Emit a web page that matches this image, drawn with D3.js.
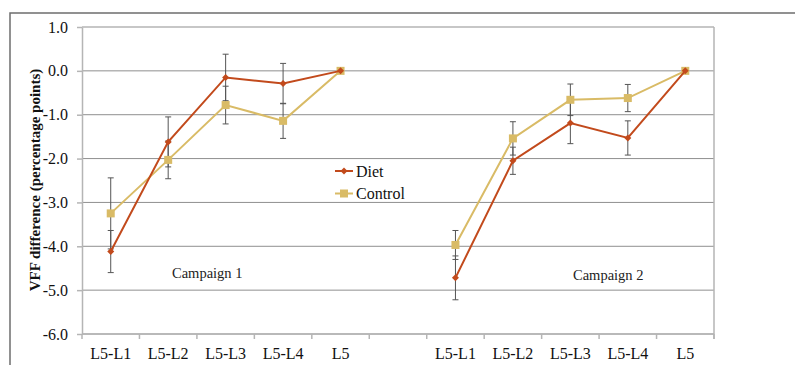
<!DOCTYPE html>
<html>
<head>
<meta charset="utf-8">
<script src="https://cdn.jsdelivr.net/npm/d3@7"></script>
<style>
  body { margin: 0; background: #fff; }
  svg, svg text { font-family: "Liberation Serif", "DejaVu Serif", serif; }
  .grid line { stroke: #8f8f8f; stroke-width: 1; }
  .yaxis path, .yaxis line { stroke: #b5b5b5; stroke-width: 1.5; }
  .yaxis text, .xlabel { font-size: 16px; fill: #111; }
</style>
</head>
<body>
<script>
// data
const categories = ["L5-L1", "L5-L2", "L5-L3", "L5-L4", "L5"];
const campaigns = ["Campaign 1", "Campaign 2"];
const yTicks = [1, 0, -1, -2, -3, -4, -5, -6];

const diet1 = [-4.12, -1.62, -0.15, -0.29, 0];
const dietErr1 = [0.48, 0.57, 0.53, 0.46, 0];
const control1 = [-3.25, -2.03, -0.78, -1.14, 0];
const controlErr1 = [0.81, 0.43, 0.43, 0.40, 0];

const diet2 = [-4.72, -2.05, -1.19, -1.53, 0];
const dietErr2 = [0.50, 0.31, 0.47, 0.39, 0];
const control2 = [-3.97, -1.54, -0.66, -0.62, 0];
const controlErr2 = [0.33, 0.38, 0.36, 0.31, 0];

const W = 795, H = 365;
const pLeft = 82, pRight = 714, pTop = 27, pBottom = 334;
const dietColor = "#c24a1c", controlColor = "#d9bb66";
const serif = "'Liberation Serif', 'DejaVu Serif', serif";

// 11 slots: 5 + gap + 5
const slots = [];
categories.forEach(c => slots.push("1|" + c));
slots.push("gap");
categories.forEach(c => slots.push("2|" + c));

const x = d3.scaleBand(slots, [pLeft, pRight]);
const y = d3.scaleLinear([-6, 1], [pBottom, pTop]);

const svg = d3.select("body").append("svg")
  .attr("width", W)
  .attr("height", H)
  .attr("font-family", serif);

// outer frame
svg.append("path")
  .attr("d", `M10,${H + 2}V13H${W + 2}`)
  .attr("fill", "none")
  .attr("stroke", "#6e6e6e")
  .attr("stroke-width", 1.5);

// gridlines
svg.append("g").attr("class", "grid")
  .selectAll("line").data(yTicks).join("line")
  .attr("x1", pLeft).attr("x2", pRight)
  .attr("y1", d => y(d)).attr("y2", d => y(d));

// y axis
const gy = svg.append("g").attr("class", "yaxis")
  .attr("transform", `translate(${pLeft},0)`)
  .call(d3.axisLeft(y).tickValues(yTicks).tickSize(5).tickSizeOuter(0)
    .tickFormat(d => d.toFixed(1)));
gy.attr("font-family", serif).attr("font-size", 16);
gy.selectAll("text").attr("x", -14);

// bottom axis + right border
svg.append("line")
  .attr("x1", pLeft).attr("x2", pRight)
  .attr("y1", pBottom).attr("y2", pBottom)
  .attr("stroke", "#b5b5b5").attr("stroke-width", 1.5);
svg.append("line")
  .attr("x1", pRight).attr("x2", pRight)
  .attr("y1", pTop).attr("y2", pBottom + 5)
  .attr("stroke", "#b5b5b5").attr("stroke-width", 1.5);

// band boundary ticks
svg.append("g").selectAll("line")
  .data(d3.range(slots.length + 1)).join("line")
  .attr("x1", i => pLeft + i * x.step()).attr("x2", i => pLeft + i * x.step())
  .attr("y1", pBottom).attr("y2", pBottom + 5)
  .attr("stroke", "#b5b5b5").attr("stroke-width", 1.5);

// category labels
svg.append("g").selectAll("text")
  .data(slots.filter(s => s !== "gap")).join("text")
  .attr("class", "xlabel")
  .attr("x", s => x(s) + x.bandwidth() / 2)
  .attr("y", 359)
  .attr("text-anchor", "middle")
  .text(s => s.split("|")[1]);

// y title
svg.append("text")
  .attr("transform", "translate(40,180) rotate(-90)")
  .attr("text-anchor", "middle")
  .attr("font-size", 15)
  .attr("font-weight", "bold")
  .attr("fill", "#111")
  .text("VFF difference (percentage points)");

// campaign labels
svg.append("text").attr("x", 172).attr("y", 278).attr("font-size", 14.5).attr("fill", "#222")
  .text(campaigns[0]);
svg.append("text").attr("x", 573).attr("y", 280).attr("font-size", 14.5).attr("fill", "#222")
  .text(campaigns[1]);

const series = [
  { name: "Diet", color: dietColor, marker: "diamond",
    parts: [[1, diet1, dietErr1], [2, diet2, dietErr2]] },
  { name: "Control", color: controlColor, marker: "square",
    parts: [[1, control1, controlErr1], [2, control2, controlErr2]] }
];

const line = d3.line().x(d => d.x).y(d => d.y);

// error bars first
series.forEach(s => {
  s.parts.forEach(([c, vals, errs]) => {
    const g = svg.append("g").attr("stroke", "#555").attr("stroke-width", 1);
    vals.forEach((v, i) => {
      if (!errs[i]) return;
      const cx = x(c + "|" + categories[i]) + x.bandwidth() / 2;
      const y1 = y(v + errs[i]), y2 = y(v - errs[i]);
      g.append("line").attr("x1", cx).attr("x2", cx).attr("y1", y1).attr("y2", y2);
      g.append("line").attr("x1", cx - 3).attr("x2", cx + 3).attr("y1", y1).attr("y2", y1);
      g.append("line").attr("x1", cx - 3).attr("x2", cx + 3).attr("y1", y2).attr("y2", y2);
    });
  });
});

function drawMarker(g, mx, my, s) {
  if (s.marker === "diamond") {
    g.append("path")
      .attr("d", `M${mx},${my - 3.5}L${mx + 3.5},${my}L${mx},${my + 3.5}L${mx - 3.5},${my}Z`)
      .attr("fill", s.color);
  } else {
    g.append("rect")
      .attr("x", mx - 4).attr("y", my - 4)
      .attr("width", 8).attr("height", 8)
      .attr("fill", s.color);
  }
}

// control drawn first so diet sits on top
[series[1], series[0]].forEach(s => {
  s.parts.forEach(([c, vals]) => {
    const pts = vals.map((v, i) => ({
      x: x(c + "|" + categories[i]) + x.bandwidth() / 2,
      y: y(v)
    }));
    svg.append("path")
      .attr("d", line(pts))
      .attr("fill", "none")
      .attr("stroke", s.color)
      .attr("stroke-width", 2);
    const g = svg.append("g");
    pts.forEach(p => drawMarker(g, p.x, p.y, s));
  });
});

// legend
series.forEach((s, i) => {
  const ly = 171 + i * 22.5;
  const g = svg.append("g");
  g.append("line").attr("x1", 335).attr("x2", 353).attr("y1", ly).attr("y2", ly)
    .attr("stroke", s.color).attr("stroke-width", 2);
  drawMarker(g, 344, ly, s);
  g.append("text").attr("x", 356).attr("y", ly + 5.5)
    .attr("font-size", 16).attr("fill", "#111")
    .text(s.name);
});
</script>
</body>
</html>
